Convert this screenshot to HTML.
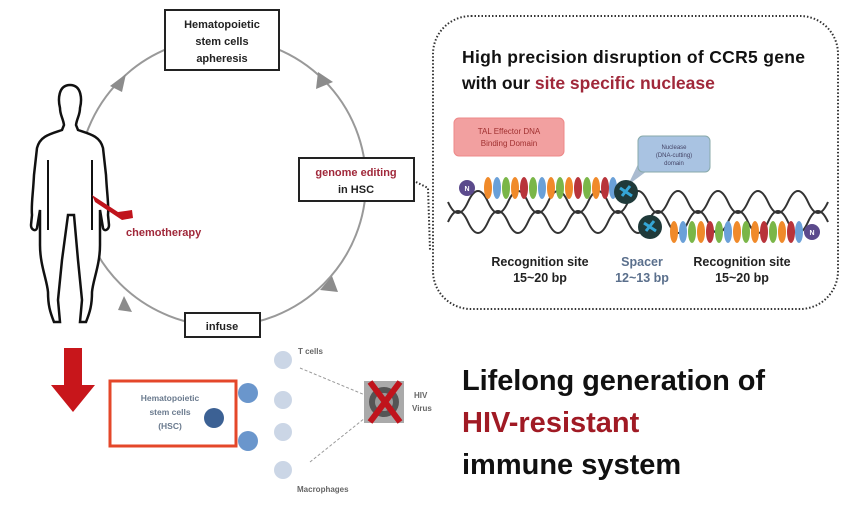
<!DOCTYPE html>
<html><head><meta charset="utf-8"><style>
html,body{margin:0;padding:0;background:#fff;width:853px;height:505px;overflow:hidden}
svg{display:block;font-family:"Liberation Sans",sans-serif}
</style></head><body>
<svg width="853" height="505" viewBox="0 0 853 505">
<!-- cycle circle -->
<circle cx="222" cy="182" r="144" fill="none" stroke="#999" stroke-width="2"/>
<g fill="#8c8c8c">
<polygon points="110,86 126,74 122,92"/>
<polygon points="318,72 333,82 316,89"/>
<polygon points="332,276 338,292 320,290"/>
<polygon points="124,296 132,312 118,310"/>
</g>
<!-- boxes -->
<rect x="165" y="10" width="114" height="60" fill="#fff" stroke="#222" stroke-width="2"/>
<text x="222" y="28" font-size="11" font-weight="bold" text-anchor="middle" fill="#222">Hematopoietic</text>
<text x="222" y="45" font-size="11" font-weight="bold" text-anchor="middle" fill="#222">stem cells</text>
<text x="222" y="62" font-size="11" font-weight="bold" text-anchor="middle" fill="#222">apheresis</text>
<rect x="299" y="158" width="115" height="43" fill="#fff" stroke="#222" stroke-width="2"/>
<text x="356" y="176" font-size="11" font-weight="bold" text-anchor="middle" fill="#a0283a">genome editing</text>
<text x="356" y="193" font-size="11" font-weight="bold" text-anchor="middle" fill="#222">in  HSC</text>
<rect x="185" y="313" width="75" height="24" fill="#fff" stroke="#222" stroke-width="2"/>
<text x="222" y="330" font-size="11" font-weight="bold" text-anchor="middle" fill="#222">infuse</text>
<!-- dotted connector -->
<polyline points="416,182 428,188 430,250" fill="none" stroke="#333" stroke-width="2" stroke-dasharray="1.5 2"/>
<!-- human -->
<g fill="#fff" stroke="#111" stroke-width="2.5">
<path d="M70,85 C58,85 58,100 60,108 C60,115 63,118 64,125 L62,130 C50,134 40,136 37,148 L34,175 C33,195 31,205 32,215 L31,225 C31,230 36,232 37,228 L40,210 L40,245 C40,265 47,280 48,292 C48,305 50,312 54,322 L60,322 L58,300 L62,260 L68,215 L74,215 L78,260 L82,300 L80,322 L86,322 C90,312 92,305 92,292 C93,280 100,265 100,245 L100,210 L103,228 C104,232 109,230 109,225 L108,215 C109,205 107,195 106,175 L103,148 C100,136 90,134 78,130 L76,125 C77,118 80,115 80,108 C82,100 82,85 70,85 Z"/>
</g>
<line x1="48" y1="160" x2="48" y2="230" stroke="#111" stroke-width="2"/>
<line x1="92" y1="160" x2="92" y2="230" stroke="#111" stroke-width="2"/>
<polygon points="92,195 118,212 132,210 133,218 122,220 95,202" fill="#c0141c"/>
<text x="126" y="236" font-size="11" font-weight="bold" fill="#a0283a">chemotherapy</text>
<!-- big red arrow -->
<polygon points="64,348 82,348 82,385 95,385 73,412 51,385 64,385" fill="#c8161b"/>
<!-- HSC box -->
<rect x="110" y="381" width="126" height="65" fill="#fff" stroke="#e4472a" stroke-width="3"/>
<text x="170" y="401" font-size="8.5" font-weight="bold" text-anchor="middle" fill="#6a7a8e">Hematopoietic</text>
<text x="170" y="415" font-size="8.5" font-weight="bold" text-anchor="middle" fill="#6a7a8e">stem cells</text>
<text x="170" y="429" font-size="8.5" font-weight="bold" text-anchor="middle" fill="#6a7a8e">(HSC)</text>
<circle cx="214" cy="418" r="10" fill="#3c6194"/>
<circle cx="248" cy="393" r="10" fill="#6a96cc"/>
<circle cx="248" cy="441" r="10" fill="#6a96cc"/>
<g fill="#cbd6e6"><circle cx="283" cy="360" r="9"/><circle cx="283" cy="400" r="9"/><circle cx="283" cy="432" r="9"/><circle cx="283" cy="470" r="9"/></g>
<g stroke="#999" stroke-dasharray="3 2" fill="none"><line x1="300" y1="368" x2="365" y2="395"/><line x1="310" y1="462" x2="365" y2="418"/></g>
<text x="298" y="354" font-size="8" font-weight="bold" fill="#666">T cells</text>
<text x="297" y="492" font-size="8" font-weight="bold" fill="#666">Macrophages</text>
<rect x="364" y="381" width="40" height="42" fill="#aaa"/>
<circle cx="384" cy="402" r="15" fill="#555"/><circle cx="384" cy="402" r="9" fill="#999"/>
<path d="M370,382 L400,422 M400,382 L370,422" stroke="#c0141c" stroke-width="6"/>
<text x="414" y="398" font-size="8" font-weight="bold" fill="#666">HIV</text>
<text x="412" y="411" font-size="8" font-weight="bold" fill="#666">Virus</text>
<!-- lifelong text -->
<text x="462" y="390" font-size="29" font-weight="bold" fill="#111" textLength="303">Lifelong generation of</text>
<text x="462" y="432" font-size="29" font-weight="bold" fill="#a01a24">HIV-resistant</text>
<text x="462" y="474" font-size="29" font-weight="bold" fill="#111">immune system</text>
<!-- dotted box -->
<rect x="433" y="16" width="405" height="293" rx="38" fill="#fff" stroke="#333" stroke-width="2" stroke-dasharray="1.5 2"/>
<text x="462" y="63" font-size="17.5" font-weight="bold" fill="#111" textLength="343">High precision disruption of CCR5 gene</text>
<text x="462" y="89" font-size="17.5" font-weight="bold" fill="#111">with our <tspan fill="#a0283a">site specific nuclease</tspan></text>
<rect x="454" y="118" width="110" height="38" rx="5" fill="#f2a0a0" stroke="#e88"/>
<text x="509" y="134" font-size="8" text-anchor="middle" fill="#a03030">TAL Effector DNA</text>
<text x="509" y="146" font-size="8" text-anchor="middle" fill="#a03030">Binding Domain</text>
<polygon points="640,160 655,165 628,185" fill="#aabbd0"/>
<rect x="638" y="136" width="72" height="36" rx="5" fill="#a9c3e2" stroke="#8aa"/>
<text x="674" y="149" font-size="6" text-anchor="middle" fill="#446">Nuclease</text>
<text x="674" y="157" font-size="6" text-anchor="middle" fill="#446">(DNA-cutting)</text>
<text x="674" y="165" font-size="6" text-anchor="middle" fill="#446">domain</text>
<!-- DNA -->
<path d="M448,202 q10,22 20,0 t20,0 t20,0 t20,0 t20,0 t20,0 t20,0 t20,0 t20,0 t20,0 t20,0 t20,0 t20,0 t20,0 t20,0 t20,0 t20,0 t20,0 t20,0" fill="none" stroke="#333" stroke-width="2"/>
<path d="M448,222 q10,-22 20,0 t20,0 t20,0 t20,0 t20,0 t20,0 t20,0 t20,0 t20,0 t20,0 t20,0 t20,0 t20,0 t20,0 t20,0 t20,0 t20,0 t20,0 t20,0" fill="none" stroke="#333" stroke-width="2"/>
<g id="rep1">
<ellipse cx="488" cy="188" rx="4" ry="11" fill="#f08a2a"/><ellipse cx="497" cy="188" rx="4" ry="11" fill="#6aa0d8"/><ellipse cx="506" cy="188" rx="4" ry="11" fill="#7ab648"/><ellipse cx="515" cy="188" rx="4" ry="11" fill="#f08a2a"/><ellipse cx="524" cy="188" rx="4" ry="11" fill="#b8343a"/><ellipse cx="533" cy="188" rx="4" ry="11" fill="#7ab648"/><ellipse cx="542" cy="188" rx="4" ry="11" fill="#6aa0d8"/><ellipse cx="551" cy="188" rx="4" ry="11" fill="#f08a2a"/><ellipse cx="560" cy="188" rx="4" ry="11" fill="#7ab648"/><ellipse cx="569" cy="188" rx="4" ry="11" fill="#f08a2a"/><ellipse cx="578" cy="188" rx="4" ry="11" fill="#b8343a"/><ellipse cx="587" cy="188" rx="4" ry="11" fill="#7ab648"/><ellipse cx="596" cy="188" rx="4" ry="11" fill="#f08a2a"/><ellipse cx="605" cy="188" rx="4" ry="11" fill="#b8343a"/><ellipse cx="613" cy="188" rx="4" ry="11" fill="#6aa0d8"/>
</g>
<use href="#rep1" transform="translate(186,44)"/>
<circle cx="467" cy="188" r="8" fill="#5b4a8c"/><text x="467" y="191" font-size="7" font-weight="bold" text-anchor="middle" fill="#fff">N</text>
<circle cx="812" cy="232" r="8" fill="#5b4a8c"/><text x="812" y="235" font-size="7" font-weight="bold" text-anchor="middle" fill="#fff">N</text>
<circle cx="626" cy="192" r="12" fill="#1f3a3a"/><path d="M620,188 l12,8 M622,196 l8,-10" stroke="#35a6d6" stroke-width="3"/>
<circle cx="650" cy="227" r="12" fill="#1f3a3a"/><path d="M644,223 l12,8 M646,231 l8,-10" stroke="#35a6d6" stroke-width="3"/>
<g font-size="12.5" font-weight="bold" text-anchor="middle">
<text x="540" y="266" fill="#222">Recognition site</text><text x="540" y="282" fill="#222">15~20 bp</text>
<text x="642" y="266" fill="#5a6f8c">Spacer</text><text x="642" y="282" fill="#5a6f8c">12~13 bp</text>
<text x="742" y="266" fill="#222">Recognition site</text><text x="742" y="282" fill="#222">15~20 bp</text>
</g>
</svg>
</body></html>
